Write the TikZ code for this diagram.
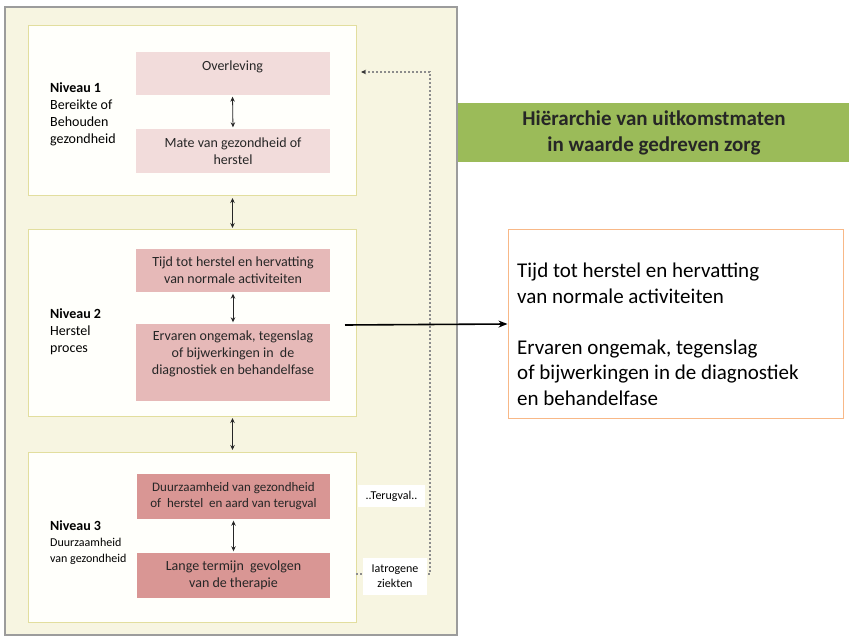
\documentclass[tikz,border=0pt]{standalone}
\usepackage{fontspec}
\setmainfont{Carlito}
\usetikzlibrary{arrows.meta,calc}
\definecolor{outerfill}{HTML}{F7F5E1}
\definecolor{outerline}{HTML}{9C9C9C}
\definecolor{lvlfill}{HTML}{FFFFFB}
\definecolor{lvlline}{HTML}{E2DE9E}
\definecolor{pinkA}{HTML}{F2DCDB}
\definecolor{pinkB}{HTML}{E6B9B8}
\definecolor{pinkC}{HTML}{D99694}
\definecolor{bannergreen}{HTML}{9BBB59}
\definecolor{orangeline}{HTML}{F8B887}
\definecolor{dotgray}{HTML}{8C8C8C}
\definecolor{boxtext}{HTML}{262626}
\begin{document}
\begin{tikzpicture}[x=1pt,y=-1pt,
  outerbox/.style={draw=outerline,line width=1.5pt,fill=outerfill,minimum width=452pt,minimum height=628pt,inner sep=0pt},
  lvlbox/.style={draw=lvlline,line width=1pt,fill=lvlfill,minimum width=328pt,inner sep=0pt},
  mbox/.style={minimum width=194pt,inner sep=2pt,align=center,text=boxtext,font=\fontsize{14}{17}\selectfont},
  lvltext/.style={anchor=north west,align=left,inner sep=0pt,text=black,font=\fontsize{14}{17}\selectfont},
  dbl/.style={{Stealth[length=5pt,width=4.5pt]}-{Stealth[length=5pt,width=4.5pt]},line width=0.8pt,draw=black!85,shorten >=1.5pt,shorten <=1.5pt},
  dotline/.style={dotgray,line width=1.2pt,dash pattern=on 2pt off 2pt},
  smalllab/.style={fill=white,inner sep=0pt,align=center,text=black,font=\fontsize{12}{15}\selectfont}
]
\useasboundingbox[fill=white] (0,0) rectangle (849,636);

% outer frame
\node[outerbox] (outer) at (231,321) {};

% level boxes
\node[lvlbox,minimum height=170pt] (lvl1) at (192,111) {};
\node[lvlbox,minimum height=186pt] (lvl2) at (192,323) {};
\node[lvlbox,minimum height=170pt] (lvl3) at (192,537) {};

% measure boxes
\node[mbox,fill=pinkA,minimum height=43pt,text depth=16pt] (over) at (232.5,73.5) {Overleving};
\node[mbox,fill=pinkA,minimum height=44pt] (mate) at (233,151) {Mate van gezondheid of\\herstel};
\node[mbox,fill=pinkB,minimum height=43pt] (tijd) at (233,270.5) {Tijd tot herstel en hervatting\\van normale activiteiten};
\node[mbox,fill=pinkB,minimum height=77pt,text depth=20pt] (erv) at (233,362.5) {Ervaren ongemak, tegenslag\\of bijwerkingen in\ \ de\\diagnostiek en behandelfase};
\node[mbox,fill=pinkC,minimum width=193pt,minimum height=45pt,font=\fontsize{13}{16}\selectfont] (duur) at (233.5,496.5) {Duurzaamheid van gezondheid\\of\ \ herstel\ \ en aard van terugval};
\node[mbox,fill=pinkC,minimum width=193pt,minimum height=45pt,font=\fontsize{14}{17}\selectfont] (lange) at (233.5,575.5) {Lange termijn\ \ gevolgen\\van de therapie};

% level labels
\node[lvltext] (niv1) at (50,82) {\textbf{Niveau 1}\\Bereikte of\\Behouden\\gezondheid};
\node[lvltext] (niv2) at (50,308) {\textbf{Niveau 2}\\Herstel\\proces};
\node[lvltext,font=\fontsize{12}{16}\selectfont] (niv3) at (50,520) {{\fontsize{14}{16}\selectfont\textbf{Niveau 3}}\\Duurzaamheid\\van gezondheid};

% vertical double arrows
\draw[dbl] (over.south) -- (mate.north);
\draw[dbl] (tijd.south) -- (erv.north);
\draw[dbl] (duur.south) -- (lange.north);
\draw[dbl] (lvl1.south -| over.south) -- (lvl2.north -| over.south);
\draw[dbl] (lvl2.south -| over.south) -- (lvl3.north -| over.south);

% dotted feedback loop
\coordinate (dstart) at (356,574);
\coordinate (dcorner1) at (430,574);
\coordinate (dcorner2) at (430,72);
\coordinate (dend) at (361,72);
\draw[dotline,-{Stealth[length=5pt,width=4.5pt,fill=black!80,color=black!80]}] (dstart) -- (dcorner1) -- (dcorner2) -- (dend);

\node[smalllab,minimum width=67pt,minimum height=22pt] (terug) at (391.5,496) {..Terugval..};
\node[smalllab,minimum width=64pt,minimum height=37pt] (iatro) at (395,576.5) {Iatrogene\\ziekten};

% banner
\node[fill=bannergreen,minimum width=392pt,minimum height=59pt,inner sep=0pt,align=center,text=boxtext,font=\fontsize{21}{26}\selectfont\bfseries] (banner) at (654,132.5) {Hiërarchie van uitkomstmaten\\in waarde gedreven zorg};

% right box
\node[draw=orangeline,line width=1pt,fill=white,minimum width=335pt,minimum height=188pt,inner sep=0pt] (rbox) at (675.5,324) {};
\node[anchor=north west,align=left,inner sep=0pt,text=black,font=\fontsize{21}{25.5}\selectfont] (rtext) at (517,263) {Tijd tot herstel en hervatting\\van normale activiteiten\\[25.5pt]Ervaren ongemak, tegenslag\\of bijwerkingen in de diagnostiek\\en behandelfase};

% main arrow
\coordinate (astart) at (345,325);
\draw[line width=1.6pt,-{Stealth[length=9pt,width=7pt]}] (astart) -- (rbox.west);
\end{tikzpicture}
\end{document}
